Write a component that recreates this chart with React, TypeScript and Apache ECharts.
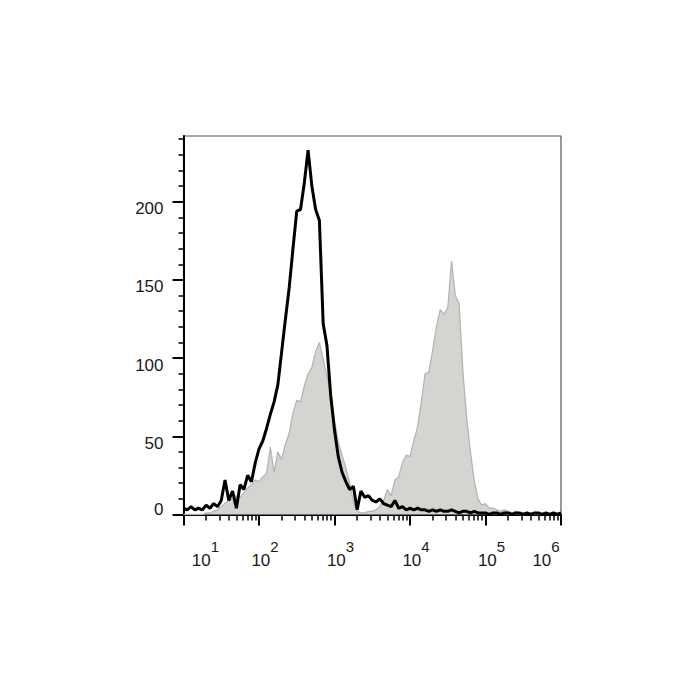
import React, { useEffect, useRef } from "react";
import * as echarts from "echarts";

// Bin positions (decade exponent of fluorescence intensity)
const binExp = [
  1.0, 1.05, 1.1, 1.15, 1.2, 1.25, 1.3, 1.35, 1.4, 1.45, 1.5, 1.55, 1.6, 1.65, 1.7, 1.75, 1.8, 1.85, 1.9, 1.95,
  2.0, 2.05, 2.1, 2.15, 2.2, 2.25, 2.3, 2.35, 2.4, 2.45, 2.5, 2.55, 2.6, 2.65, 2.7, 2.75, 2.8, 2.85, 2.9, 2.95,
  3.0, 3.05, 3.1, 3.15, 3.2, 3.25, 3.3, 3.35, 3.4, 3.45, 3.5, 3.55, 3.6, 3.65, 3.7, 3.75, 3.8, 3.85, 3.9, 3.95,
  4.0, 4.05, 4.1, 4.15, 4.2, 4.25, 4.3, 4.35, 4.4, 4.45, 4.5, 4.55, 4.6, 4.65, 4.7, 4.75, 4.8, 4.85, 4.9, 4.95,
  5.0, 5.05, 5.1, 5.15, 5.2, 5.25, 5.3, 5.35, 5.4, 5.45, 5.5, 5.55, 5.6, 5.65, 5.7, 5.75, 5.8, 5.85, 5.9, 5.95, 6.0,
];

// Black outline histogram (control)
const blackCounts = [
  4, 3, 5, 3, 4, 3, 6, 4, 7, 5, 9, 22, 9, 15, 4, 19, 16, 25, 21, 33,
  42, 47, 55, 64, 72, 83, 104, 125, 145, 170, 194, 195, 212, 233, 210, 195, 188, 122, 108, 76,
  54, 37, 27, 21, 16, 18, 3, 15, 11, 12, 9, 8, 10, 7, 6, 5, 9, 4, 5, 3,
  4, 3, 4, 3, 3, 2, 3, 2, 3, 2, 2, 3, 2, 1, 2, 2, 1, 2, 1, 1,
  1, 0, 1, 1, 0, 1, 1, 0, 1, 1, 0, 1, 0, 1, 1, 0, 1, 0, 1, 0, 1,
];

// Gray filled histogram (stained)
const grayCounts = [
  0, 0, 0, 0, 0, 0, 1, 1, 2, 3, 5, 7, 9, 10, 12, 11, 14, 17, 19, 22,
  21, 24, 26, 43, 27, 40, 35, 45, 52, 65, 73, 72, 82, 90, 94, 104, 110, 99, 89, 76,
  60, 46, 38, 30, 20, 8, 2, 1, 1, 2, 2, 3, 5, 9, 16, 12, 22, 24, 33, 38,
  37, 47, 56, 72, 90, 91, 105, 120, 131, 128, 132, 162, 140, 135, 92, 62, 40, 22, 10, 6,
  7, 4, 4, 3, 2, 3, 2, 1, 2, 1, 1, 0, 1, 0, 1, 0, 1, 0, 0, 1, 0,
];

const xDecades = [1, 2, 3, 4, 5, 6];
const xMinorMultipliers = [2, 3, 4, 5, 6, 7, 8, 9];
const yMajorTicks = [0, 50, 100, 150, 200];
const yLabelTicks = [50, 100, 150, 200];
const yMinorTicks = [10, 20, 30, 40, 60, 70, 80, 90, 110, 120, 130, 140, 160, 170, 180, 190, 210, 220, 230, 240];
const yMax = 242;

const FONT = "'Liberation Sans', Arial, Helvetica, sans-serif";
const TEXT = "#1a1a1a";

export default function App() {
  const ref = useRef<HTMLDivElement>(null);

  useEffect(() => {
    document.body.style.margin = "0";
    if (!ref.current) return;
    const chart = echarts.init(ref.current, undefined, { renderer: "svg" });

    const xMinorTicks: number[] = [];
    xDecades.slice(0, -1).forEach((d) => {
      xMinorMultipliers.forEach((k) => xMinorTicks.push(d + Math.log10(k)));
    });

    const grayData = binExp.map((e, i) => [e, grayCounts[i]]);
    const blackData = binExp.map((e, i) => [e, blackCounts[i]]);

    const baseTok = { fontSize: 17, fontFamily: FONT, color: TEXT, verticalAlign: "bottom" };
    const supTok = { fontSize: 15, fontFamily: FONT, color: TEXT, verticalAlign: "top" };

    chart.setOption({
      animation: false,
      backgroundColor: "#ffffff",
      grid: {
        left: 183.5,
        top: 136,
        right: 139,
        bottom: 185.5,
        show: true,
        borderColor: "#555555",
        borderWidth: 1.2,
        backgroundColor: "transparent",
      },
      xAxis: [
        {
          type: "value",
          min: 1,
          max: 6,
          interval: 1,
          position: "bottom",
          axisLine: { show: true, onZero: false, lineStyle: { color: "#000", width: 2 } },
          axisTick: { show: true, length: 11, lineStyle: { color: "#000", width: 2 } },
          splitLine: { show: false },
          axisLabel: {
            show: true,
            margin: 24,
            showMinLabel: true,
            showMaxLabel: true,
            formatter: (v: number) => {
              const e = Math.round(v);
              const b = e === 1 ? "bf" : "b";
              const s = e === 6 ? "sl" : "s";
              return `{${b}|10}{${s}|${e}}`;
            },
            rich: {
              b: { ...baseTok, padding: [0, 0, 0, 12] },
              bf: { ...baseTok, padding: [0, 0, 0, 44] },
              s: { ...supTok, padding: [0, 0, 15, 0] },
              sl: { ...supTok, padding: [0, 42, 15, 0] },
            },
          },
        },
        {
          type: "value",
          min: 1,
          max: 6,
          position: "bottom",
          axisLine: { show: false, onZero: false },
          axisTick: { show: true, length: 6, customValues: xMinorTicks, lineStyle: { color: "#000", width: 1.5 } },
          axisLabel: { show: false },
          splitLine: { show: false },
        },
      ],
      yAxis: [
        {
          type: "value",
          min: 0,
          max: yMax,
          position: "left",
          axisLine: { show: true, onZero: false, lineStyle: { color: "#000", width: 2 } },
          axisTick: { show: true, length: 11, customValues: yMajorTicks, lineStyle: { color: "#000", width: 2 } },
          axisLabel: {
            show: true,
            customValues: yLabelTicks,
            margin: 20,
            fontSize: 17,
            fontFamily: FONT,
            color: TEXT,
            verticalAlign: "top",
            lineHeight: 14,
          },
          splitLine: { show: false },
        },
        {
          type: "value",
          min: 0,
          max: yMax,
          position: "left",
          axisLine: { show: false, onZero: false },
          axisTick: { show: true, length: 5, customValues: yMinorTicks, lineStyle: { color: "#000", width: 1.5 } },
          axisLabel: {
            show: true,
            customValues: [0],
            margin: 20,
            fontSize: 17,
            fontFamily: FONT,
            color: TEXT,
            verticalAlign: "bottom",
            lineHeight: 11,
          },
          splitLine: { show: false },
        },
      ],
      series: [
        {
          type: "line",
          xAxisIndex: 0,
          yAxisIndex: 0,
          data: grayData,
          symbol: "none",
          lineStyle: { color: "#b5b5b5", width: 1.3 },
          areaStyle: { color: "#d6d4d1", opacity: 1 },
          z: 2,
        },
        {
          type: "line",
          xAxisIndex: 0,
          yAxisIndex: 0,
          data: blackData,
          symbol: "none",
          lineStyle: { color: "#000000", width: 3 },
          z: 3,
        },
      ],
    });

    return () => chart.dispose();
  }, []);

  return <div ref={ref} style={{ width: 700, height: 700 }} />;
}
